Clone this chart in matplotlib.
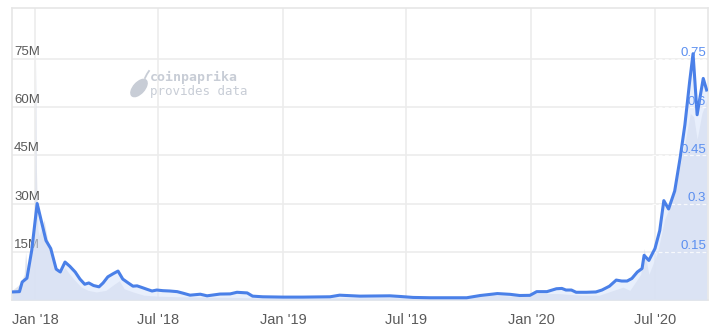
import matplotlib
matplotlib.use("Agg")
import matplotlib.pyplot as plt
from matplotlib.patches import Ellipse
from matplotlib.transforms import IdentityTransform
import pandas as pd

BLUE = "#4a80e8"; LBLUE = "#5b8ff0"; GRID = "#ececec"; TXT = "#5a5a5a"; WM = "#c8cdd6"

# price (USD)
price_dates = ["2017-11-28", "2017-12-09", "2017-12-13", "2017-12-20", "2017-12-27", "2018-01-04",
               "2018-01-11", "2018-01-17", "2018-01-24", "2018-02-01", "2018-02-07", "2018-02-14",
               "2018-02-21", "2018-03-01", "2018-03-08", "2018-03-15", "2018-03-21", "2018-03-28",
               "2018-04-05", "2018-04-11", "2018-04-18", "2018-04-26", "2018-05-03", "2018-05-10",
               "2018-05-18", "2018-05-25", "2018-05-31", "2018-06-07", "2018-06-15", "2018-06-22",
               "2018-06-29", "2018-07-08", "2018-07-18", "2018-07-29", "2018-08-07", "2018-08-17",
               "2018-09-01", "2018-09-11", "2018-09-30", "2018-10-15", "2018-10-25", "2018-11-09",
               "2018-11-17", "2018-12-02", "2019-01-01", "2019-01-30", "2019-03-11", "2019-03-25",
               "2019-04-24", "2019-06-07", "2019-06-22", "2019-07-11", "2019-08-05", "2019-09-03",
               "2019-09-28", "2019-10-18", "2019-11-06", "2019-11-12", "2019-12-01", "2019-12-15",
               "2019-12-30", "2020-01-09", "2020-01-24", "2020-02-07", "2020-02-15", "2020-02-21",
               "2020-02-29", "2020-03-07", "2020-03-22", "2020-04-05", "2020-04-14", "2020-04-25",
               "2020-05-05", "2020-05-13", "2020-05-21", "2020-05-28", "2020-06-05", "2020-06-12",
               "2020-06-15", "2020-06-22", "2020-07-01", "2020-07-08", "2020-07-14", "2020-07-21",
               "2020-07-30", "2020-08-07", "2020-08-14", "2020-08-21", "2020-08-26", "2020-09-01",
               "2020-09-05", "2020-09-10", "2020-09-15"]
price = [0.025, 0.026, 0.056, 0.068, 0.154, 0.300,
         0.238, 0.185, 0.160, 0.096, 0.087, 0.118,
         0.105, 0.087, 0.065, 0.049, 0.053, 0.045,
         0.041, 0.053, 0.072, 0.082, 0.090, 0.065,
         0.053, 0.043, 0.044, 0.039, 0.033, 0.028,
         0.031, 0.029, 0.028, 0.026, 0.021, 0.015,
         0.018, 0.013, 0.0185, 0.019, 0.024, 0.022,
         0.012, 0.010, 0.009, 0.009, 0.010, 0.015,
         0.012, 0.013, 0.011, 0.008, 0.007, 0.007,
         0.007, 0.014, 0.0185, 0.020, 0.0176, 0.014,
         0.0145, 0.026, 0.026, 0.035, 0.036, 0.031,
         0.031, 0.024, 0.024, 0.025, 0.031, 0.043,
         0.062, 0.059, 0.059, 0.067, 0.087, 0.098,
         0.139, 0.123, 0.160, 0.216, 0.309, 0.283,
         0.339, 0.442, 0.545, 0.679, 0.766, 0.576,
         0.627, 0.689, 0.653]

# volume (USD, millions)
vol_dates = ["2017-11-28", "2017-12-10", "2017-12-16", "2017-12-18", "2017-12-21", "2017-12-27",
             "2017-12-31", "2018-01-02", "2018-01-03", "2018-01-05", "2018-01-07", "2018-01-10",
             "2018-01-14", "2018-01-20", "2018-01-28", "2018-02-05", "2018-02-14", "2018-02-21",
             "2018-03-01", "2018-03-10", "2018-03-20", "2018-04-01", "2018-04-15", "2018-04-28",
             "2018-05-05", "2018-05-12", "2018-05-25", "2018-06-10", "2018-07-01", "2018-08-01",
             "2018-10-20", "2018-12-01", "2019-03-01", "2019-06-01", "2019-07-10", "2019-09-01",
             "2019-11-05", "2019-12-01", "2020-01-01", "2020-02-10", "2020-03-15", "2020-04-10",
             "2020-05-01", "2020-05-15", "2020-05-25", "2020-06-10", "2020-06-15", "2020-06-22",
             "2020-07-05", "2020-07-15", "2020-07-25", "2020-08-05", "2020-08-15", "2020-08-22",
             "2020-08-27", "2020-09-01", "2020-09-08", "2020-09-15"]
volume = [3, 5, 8, 15, 8, 14,
          22, 75, 40, 22, 20, 22,
          25, 18, 12, 8, 10, 8,
          6, 4, 3, 2.5, 3, 5,
          6, 3.5, 2.5, 1.5, 1.2, 1.0,
          0.8, 0.6, 0.6, 0.7, 0.6, 0.5,
          1.5, 1.2, 2.0, 2.0, 1.5, 1.5,
          3, 4, 3, 8, 16, 8,
          15, 25, 30, 40, 50, 58,
          57, 50, 58, 62]

y_ticks = [15e6, 30e6, 45e6, 60e6, 75e6]
y_labels = ["15M", "30M", "45M", "60M", "75M"]
p_ticks = [0.15, 0.3, 0.45, 0.6, 0.75]
p_labels = ["0.15", "0.3", "0.45", "0.6", "0.75"]
x_ticks = ["2018-01-01", "2018-07-01", "2019-01-01", "2019-07-01", "2020-01-01", "2020-07-01"]
x_labels = ["Jan '18", "Jul '18", "Jan '19", "Jul '19", "Jan '20", "Jul '20"]

pd_ = pd.to_datetime(price_dates); vd = pd.to_datetime(vol_dates)
vol = [v * 1e6 for v in volume]

plt.rcParams["font.family"] = ["Liberation Sans", "DejaVu Sans"]
fig = plt.figure(figsize=(7.2, 3.34), dpi=100)
ax = fig.add_axes([12/720, 1-300/334, 696/720, 292/334])
ax2 = ax.twinx()
ax.set_zorder(1); ax2.set_zorder(2); ax2.patch.set_visible(False)

xmin, xmax = pd.Timestamp("2017-11-28"), pd.Timestamp("2020-09-17")
ax.set_xlim(xmin, xmax); ax2.set_xlim(xmin, xmax)
ax.set_ylim(0, 90.8e6); ax2.set_ylim(0, 0.908)

# grid
for t in y_ticks: ax.axhline(t, color=GRID, lw=1.2, zorder=0)
for t in x_ticks: ax.axvline(pd.Timestamp(t), color=GRID, lw=1.2, zorder=0)

# watermark, in pixels (origin bottom-left)
px = IdentityTransform()
ax.add_patch(Ellipse((139, 334-88), 21, 11, angle=48, color=WM, transform=px, zorder=0.5))
ax.plot([145, 147, 149], [334-78, 334-74, 334-71], color=WM, lw=1.3, transform=px, zorder=0.5)
ax.text(150, 334-77, "coinpaprika", fontsize=9.5, color=WM, family="DejaVu Sans Mono",
        weight="bold", va="center", transform=px, zorder=0.5)
ax.text(150, 334-91, "provides data", fontsize=9, color=WM, family="DejaVu Sans Mono",
        va="center", transform=px, zorder=0.5)

# volume
ax.fill_between(vd, vol, color="#dfe3ec", lw=0, alpha=0.9, zorder=1)

# price
ax2.fill_between(pd_, price, color="#d6e2fa", lw=0, alpha=0.55, zorder=1)
ax2.plot(pd_, price, color=BLUE, lw=2.2, solid_joinstyle="round", zorder=3)
for t in p_ticks: ax2.axhline(t, xmin=0.92, color="white", lw=0.9, ls=(0, (3, 2)), alpha=0.8, zorder=2)

for sp in ax.spines.values(): sp.set_color("#e6e6e6"); sp.set_linewidth(1.2)
for sp in ax2.spines.values(): sp.set_visible(False)
ax.set_yticks([]); ax2.set_yticks([])
ax.set_xticks(pd.to_datetime(x_ticks)); ax.set_xticklabels(x_labels, fontsize=10.5, color=TXT)
ax.tick_params(axis="x", length=0, pad=9)

for t, l in zip(y_ticks, y_labels):
    ax.text(0.003, t + 0.3e6, l, transform=ax.get_yaxis_transform(), ha="left", va="bottom",
            fontsize=9.5, color=TXT, zorder=5)
for t, l in zip(p_ticks, p_labels):
    ax2.text(0.997, t - 0.002, l, transform=ax2.get_yaxis_transform(), ha="right", va="bottom",
             fontsize=9.5, color=LBLUE, zorder=5)

fig.savefig("out.png", dpi=100)
